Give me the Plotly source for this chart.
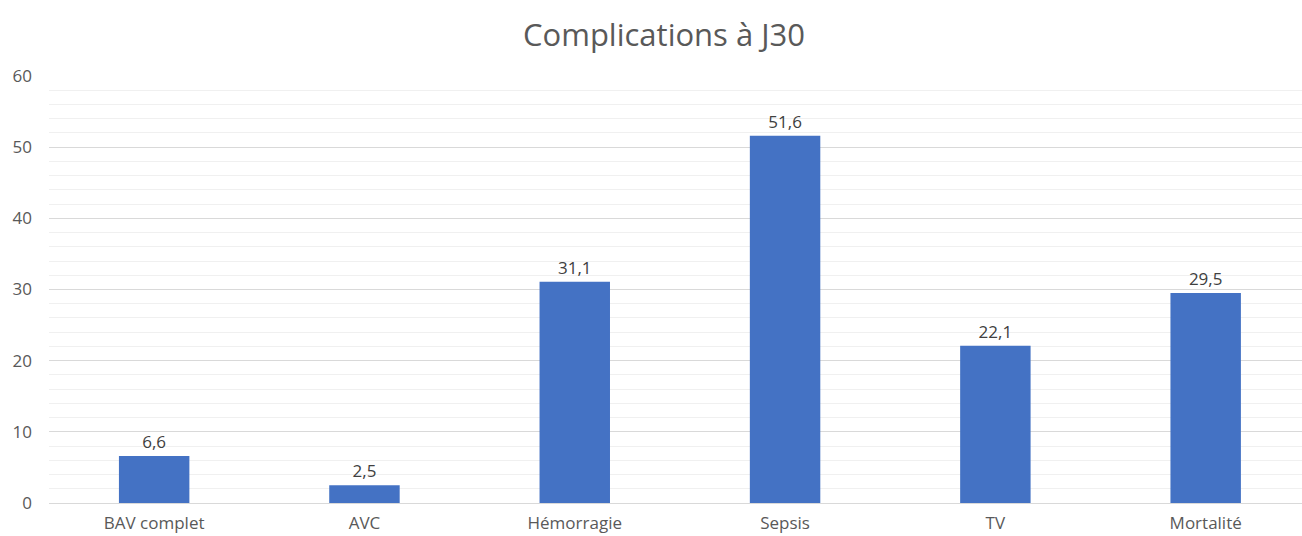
import plotly.graph_objects as go

categories = ["BAV complet", "AVC", "Hémorragie", "Sepsis", "TV", "Mortalité"]
values = [6.6, 2.5, 31.1, 51.6, 22.1, 29.5]
y_ticks = [0, 10, 20, 30, 40, 50, 60]

FONT = "Open Sans"

fig = go.Figure()
fig.add_trace(go.Bar(
    x=list(range(len(categories))),
    y=values,
    width=0.335,
    marker=dict(color="#4472C4", line=dict(width=0)),
    texttemplate="%{y:.1f}",
    textposition="outside",
    textfont=dict(family=FONT, size=17, color="#404040"),
    cliponaxis=False,
))

fig.update_layout(
    width=1302, height=536,
    margin=dict(l=49, r=0, t=76, b=33, autoexpand=False),
    paper_bgcolor="white", plot_bgcolor="white",
    separators=",.",
    showlegend=False,
    title=dict(text="Complications à J30", x=0.51, xanchor="center", y=0.935, yanchor="middle",
               font=dict(family=FONT, size=31, color="#595959")),
    xaxis=dict(
        range=[-0.5, 5.458],
        tickmode="array",
        tickvals=list(range(len(categories))),
        ticktext=categories,
        showgrid=False, zeroline=False,
        showline=True, linecolor="#D9D9D9", linewidth=1,
        ticks="",
        automargin=False,
        tickfont=dict(family=FONT, size=17, color="#595959"),
        ticklabelstandoff=5,
    ),
    yaxis=dict(
        range=[0, 60],
        tickvals=y_ticks,
        showgrid=True, gridcolor="#D9D9D9", gridwidth=1,
        zeroline=False,
        ticks="",
        automargin=False,
        tickfont=dict(family=FONT, size=17, color="#595959"),
        ticklabelstandoff=16,
        minor=dict(dtick=2, showgrid=True, gridcolor="#F0F0F0", gridwidth=1),
    ),
)

fig.write_html("out.html")
